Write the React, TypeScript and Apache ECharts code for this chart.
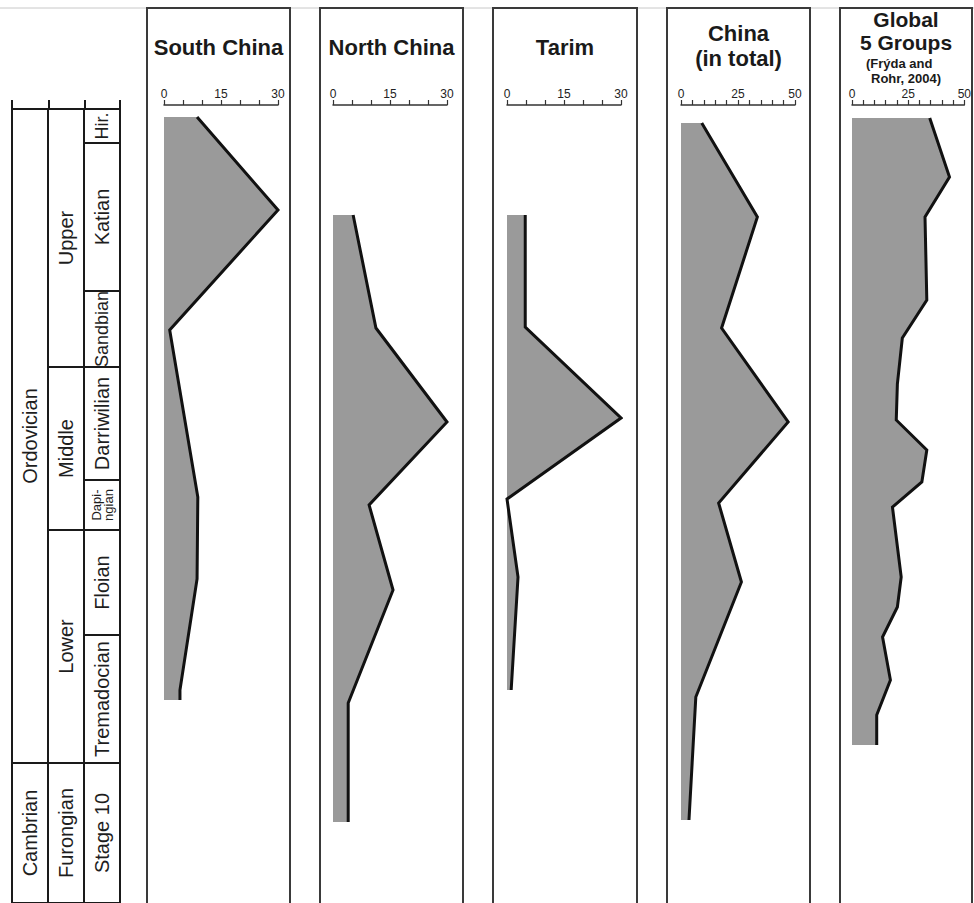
import React, { useEffect, useRef } from 'react';
import * as echarts from 'echarts';

const FONT = '"Liberation Sans", Arial, Helvetica, sans-serif';

// Stratigraphic level: 0 = top of the column, increasing downward (relative thickness units)
const LEVEL_MAX = 794;

const systemNames = ['Ordovician', 'Cambrian'];
const systemTops = [0, 654];
const systemBases = [654, 794];

const seriesNames = ['Upper', 'Middle', 'Lower', 'Furongian'];
const seriesTops = [0, 258, 421, 654];
const seriesBases = [258, 421, 654, 794];

const stageNames = ['Hir.', 'Katian', 'Sandbian', 'Darriwilian', 'Dapi-\nngian', 'Floian', 'Tremadocian', 'Stage 10'];
const stageTops = [0, 34, 182, 258, 371, 421, 526, 654];
const stageBases = [34, 182, 258, 371, 421, 526, 654, 794];

const panelTitles = ['South China', 'North China', 'Tarim', 'China\n(in total)', 'Global\n5 Groups'];
const globalSubtitle1 = '(Frýda and';
const globalSubtitle2 = 'Rohr, 2004)';
const axisMaxima = [30, 30, 30, 50, 50];
const axisLabelSteps = [15, 15, 15, 25, 25];
const axisTickStep = 5;

// Number of groups (x) at stratigraphic levels (y)
const southChinaValues = [8.7, 30, 1.5, 8.9, 8.7, 4.2, 4.2];
const southChinaLevels = [8, 101, 221, 388, 470, 581, 591];

const northChinaValues = [5.3, 11.3, 30, 9.5, 15.8, 4.0, 4.0];
const northChinaLevels = [106, 219, 313, 396, 481, 594, 713];

const tarimValues = [4.8, 4.8, 30, 0, 2.9, 1.1];
const tarimLevels = [106, 218, 309, 390, 468, 581];

const chinaTotalValues = [9.1, 33.5, 17.8, 47, 16.5, 26.5, 6.5, 3.5];
const chinaTotalLevels = [14, 108, 219, 313, 394, 473, 588, 711];

const globalValues = [34.6, 43.4, 32.5, 33.3, 22.4, 20.2, 19.7, 33.3, 31.1, 18, 21.9, 20.2, 13.6, 17.1, 11, 11];
const globalLevels = [9, 68, 108, 191, 229, 275, 311, 341, 373, 398, 468, 498, 528, 571, 606, 636];

const panelValues = [southChinaValues, northChinaValues, tarimValues, chinaTotalValues, globalValues];
const panelLevels = [southChinaLevels, northChinaLevels, tarimLevels, chinaTotalLevels, globalLevels];

// Layout (pixels)
const COL_TOP = 109;
const PLOT_HEIGHT = 794;
const frameLefts = [147, 320, 493, 667, 840];
const frameRights = [290, 463, 637, 810, 972];
const axisLefts = [164, 333, 507, 681, 852];
const AXIS_WIDTH = 114;
const cellFontSizes: Record<string, number> = { 'Hir.': 18, 'Sandbian': 18, 'Dapi-\nngian': 13 };

export default function App() {
  const ref = useRef<HTMLDivElement>(null);

  useEffect(() => {
    if (!ref.current) return;
    const chart = echarts.init(ref.current, undefined, { renderer: 'svg' });

    const grids: any[] = [];
    const xAxes: any[] = [];
    const yAxes: any[] = [];
    const series: any[] = [];

    panelTitles.forEach((_, i) => {
      grids.push({ left: axisLefts[i], width: AXIS_WIDTH, top: COL_TOP, height: PLOT_HEIGHT, containLabel: false });
      const step = axisLabelSteps[i];
      xAxes.push({
        gridIndex: i,
        type: 'value',
        position: 'top',
        offset: 4,
        min: 0,
        max: axisMaxima[i],
        interval: axisTickStep,
        axisLine: { show: true, onZero: false, lineStyle: { color: '#333', width: 1.5 } },
        axisTick: { show: true, inside: false, length: 5, lineStyle: { color: '#333', width: 1.2 } },
        splitLine: { show: false },
        axisLabel: {
          show: true,
          margin: 5,
          fontSize: 12,
          fontFamily: FONT,
          color: '#222',
          formatter: (v: number) => (v % step === 0 ? String(v) : ''),
        },
      });
      yAxes.push({ gridIndex: i, type: 'value', inverse: true, min: 0, max: LEVEL_MAX, show: false });

      const vals = panelValues[i];
      const lvls = panelLevels[i];
      series.push({
        type: 'custom',
        xAxisIndex: i,
        yAxisIndex: i,
        z: 1,
        silent: true,
        data: vals.map((v, k) => [v, lvls[k]]),
        encode: { x: 0, y: 1 },
        renderItem: (params: any, api: any) => {
          if (params.dataIndex !== 0) return null;
          const pts = vals.map((v, k) => api.coord([v, lvls[k]]));
          const first = api.coord([0, lvls[0]]);
          const last = api.coord([0, lvls[lvls.length - 1]]);
          return {
            type: 'polygon',
            shape: { points: [first, ...pts, last] },
            style: { fill: '#9a9a9a', stroke: 'none' },
          };
        },
      });
      series.push({
        type: 'line',
        xAxisIndex: i,
        yAxisIndex: i,
        z: 3,
        silent: true,
        symbol: 'none',
        showSymbol: false,
        data: vals.map((v, k) => [v, lvls[k]]),
        lineStyle: { color: '#111', width: 3, join: 'miter' },
      });
    });

    // Stratigraphic column grid
    const colGrid = grids.length;
    grids.push({ left: 12, width: 108, top: COL_TOP, height: PLOT_HEIGHT });
    xAxes.push({ gridIndex: colGrid, type: 'value', min: 0, max: 3, show: false });
    yAxes.push({ gridIndex: colGrid, type: 'value', inverse: true, min: 0, max: LEVEL_MAX, show: false });

    const cells: { col: number; top: number; base: number; name: string }[] = [];
    systemNames.forEach((n, i) => cells.push({ col: 0, top: systemTops[i], base: systemBases[i], name: n }));
    seriesNames.forEach((n, i) => cells.push({ col: 1, top: seriesTops[i], base: seriesBases[i], name: n }));
    stageNames.forEach((n, i) => cells.push({ col: 2, top: stageTops[i], base: stageBases[i], name: n }));

    series.push({
      type: 'custom',
      xAxisIndex: colGrid,
      yAxisIndex: colGrid,
      silent: true,
      clip: false,
      data: cells.map((c) => [c.col, c.top, c.base]),
      encode: { x: 0, y: 1 },
      renderItem: (params: any, api: any) => {
        const c = cells[params.dataIndex];
        const p0 = api.coord([c.col, c.top]);
        const p1 = api.coord([c.col + 1, c.base]);
        const fs = cellFontSizes[c.name] || 20;
        return {
          type: 'group',
          children: [
            {
              type: 'rect',
              shape: { x: p0[0], y: p0[1], width: p1[0] - p0[0], height: p1[1] - p0[1] },
              style: { fill: 'none', stroke: '#1a1a1a', lineWidth: 2 },
            },
            {
              type: 'text',
              x: (p0[0] + p1[0]) / 2,
              y: (p0[1] + p1[1]) / 2,
              rotation: Math.PI / 2,
              style: {
                text: c.name,
                fontSize: fs,
                fontFamily: FONT,
                lineHeight: fs <= 13 ? 12 : fs + 2,
                fill: '#1e1e1e',
                align: 'center',
                verticalAlign: 'middle',
                textAlign: 'center',
                textVerticalAlign: 'middle',
              },
            },
          ],
        };
      },
    });

    const graphics: any[] = [
      { type: 'line', shape: { x1: 0, y1: 8, x2: 974, y2: 8 }, style: { stroke: '#c8c8c8', lineWidth: 1 }, z: 0 },
    ];
    [12, 49, 85, 120].forEach((x) => {
      graphics.push({ type: 'line', shape: { x1: x, y1: 100, x2: x, y2: COL_TOP }, style: { stroke: '#1a1a1a', lineWidth: 2 } });
    });
    panelTitles.forEach((t, i) => {
      graphics.push({
        type: 'rect',
        shape: { x: frameLefts[i], y: 8, width: frameRights[i] - frameLefts[i], height: 905 },
        style: { fill: 'none', stroke: '#3a3a3a', lineWidth: 2 },
        z: 5,
      });
      const cx = (frameLefts[i] + frameRights[i]) / 2;
      const isGlobal = i === 4;
      const multi = t.indexOf('\n') >= 0;
      graphics.push({
        type: 'text',
        x: cx,
        y: isGlobal ? 31 : multi ? 45.5 : 47,
        style: {
          text: t,
          fontSize: isGlobal ? 21 : 22,
          fontWeight: 'bold',
          fontFamily: FONT,
          lineHeight: isGlobal ? 23 : 25,
          fill: '#1a1a1a',
          textAlign: 'center',
          textVerticalAlign: 'middle',
          align: 'center',
          verticalAlign: 'middle',
        },
        z: 6,
      });
    });
    graphics.push({
      type: 'text', x: 866, y: 63,
      style: { text: globalSubtitle1, fontSize: 13, fontWeight: 'bold', fontFamily: FONT, fill: '#1a1a1a', textAlign: 'left', textVerticalAlign: 'middle', align: 'left', verticalAlign: 'middle' },
      z: 6,
    });
    graphics.push({
      type: 'text', x: 871, y: 78,
      style: { text: globalSubtitle2, fontSize: 13, fontWeight: 'bold', fontFamily: FONT, fill: '#1a1a1a', textAlign: 'left', textVerticalAlign: 'middle', align: 'left', verticalAlign: 'middle' },
      z: 6,
    });

    chart.setOption({
      animation: false,
      backgroundColor: '#ffffff',
      grid: grids,
      xAxis: xAxes,
      yAxis: yAxes,
      series,
      graphic: { elements: graphics },
    });

    return () => chart.dispose();
  }, []);

  return <div ref={ref} style={{ position: 'absolute', left: 0, top: 0, width: 974, height: 903 }} />;
}
